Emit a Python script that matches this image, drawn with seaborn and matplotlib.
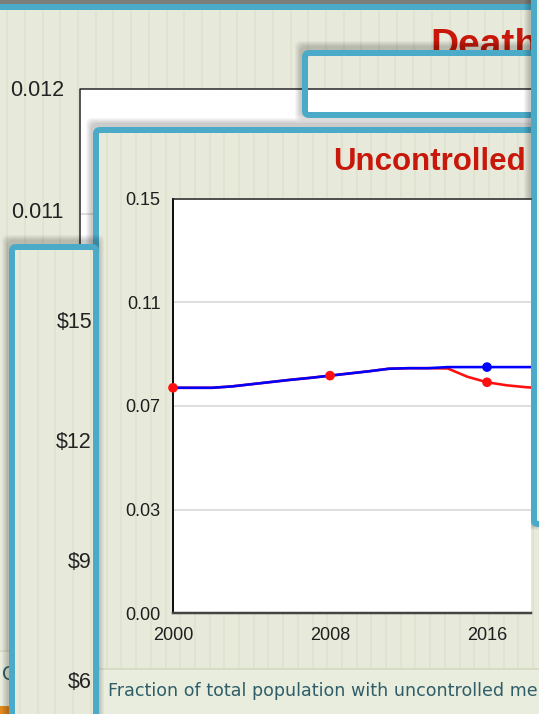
import numpy as np
import pandas as pd
import matplotlib.pyplot as plt
import seaborn as sns
from matplotlib.patches import Rectangle, FancyBboxPatch
from matplotlib.collections import LineCollection

# main chart values
years = list(range(2000, 2020))
baseline = [0.0816, 0.0816, 0.0816, 0.0821, 0.0829, 0.0837, 0.0845, 0.0852, 0.0860, 0.0868,
            0.0876, 0.0885, 0.0887, 0.0887, 0.0891, 0.0891, 0.0891, 0.0891, 0.0891, 0.0891]
scenario = [0.0816, 0.0816, 0.0816, 0.0821, 0.0829, 0.0837, 0.0845, 0.0852, 0.0860, 0.0868,
            0.0876, 0.0885, 0.0887, 0.0887, 0.0886, 0.0856, 0.0836, 0.0825, 0.0818, 0.0814]
red_dot_years = [2000, 2008, 2016]
blue_dot_years = [2016]
x_ticks = [2000, 2008, 2016]
y_ticks = [0, 0.0375, 0.075, 0.1125, 0.15]
y_tick_labels = ["0.00", "0.03", "0.07", "0.11", "0.15"]

# texts of the windows behind
death_title = "Death"
main_title = "Uncontrolled"
caption = "Fraction of total population with uncontrolled me"
back_ticks = ["0.012", "0.011"]
money_ticks = ["$15", "$12", "$9", "$6"]

BEIGE = "#e7eadb"
STRIPE = "#dfe3cf"
BLUE = "#4aaac7"
PX = 0.72  # points per pixel at dpi 100

sns.set_style("white")
plt.rcParams["font.family"] = ["Liberation Sans", "DejaVu Sans"]

fig = plt.figure(figsize=(5.39, 7.14), dpi=100)
bg = fig.add_axes([0, 0, 1, 1])
bg.set_xlim(0, 539)
bg.set_ylim(714, 0)
bg.axis("off")


def window(x0, y0, x1, y1, z, step, off, fill=BEIGE, shadow=True):
    if shadow:
        for k in range(1, 7):
            bg.add_patch(FancyBboxPatch((x0 - 1 - k, y0 - 3 - k), x1 - x0 + 2 * k, y1 - y0 + 2 * k,
                                        boxstyle="round,pad=0,rounding_size=6", fc="black",
                                        ec="none", alpha=0.035, zorder=z))
    body = FancyBboxPatch((x0 + 3, y0 + 3), x1 - x0 - 6, y1 - y0 - 6,
                          boxstyle="round,pad=0,rounding_size=4", fc=fill, ec="none", zorder=z + 0.1)
    bg.add_patch(body)
    if step:
        xs = np.arange(x0 + off, x1, step)
        lc = LineCollection([[(x, y0), (x, y1)] for x in xs], colors=STRIPE,
                            linewidths=1.8 * PX, zorder=z + 0.2)
        lc.set_clip_path(body)
        bg.add_collection(lc)
    bg.add_patch(FancyBboxPatch((x0 + 3, y0 + 3), x1 - x0 - 6, y1 - y0 - 6,
                                boxstyle="round,pad=0,rounding_size=4", fc="none", ec=BLUE,
                                lw=6 * PX, zorder=z + 0.9))
    return body


# window 1 (Death)
window(-40, 4, 600, 800, 1, 17.7, 47.3, shadow=False)
bg.add_patch(Rectangle((80, 89), 500, 555, fc="white", ec="none", zorder=1.3))
bg.plot([80, 80, 560], [650, 89, 89], color="#222222", lw=1.5 * PX, zorder=1.4)
bg.plot([81, 560], [214, 214], color="#d4d4d4", lw=1.5 * PX, zorder=1.35)
for lab, yy in zip(back_ticks, [90, 213]):
    bg.text(64, yy, lab, ha="right", va="center", fontsize=15.5, color="#222222", zorder=1.5)
bg.text(430, 56, death_title, ha="left", va="baseline", fontsize=28, fontweight="bold",
        color="#c8180c", zorder=1.5)
bg.add_patch(Rectangle((0, 651), 80, 70, fc="#e9eddd", ec="none", zorder=1.45))
bg.plot([0, 80], [651, 651], color="#d2d8be", lw=1.5 * PX, zorder=1.46)
bg.text(2, 674, "C", ha="left", va="center", fontsize=13.5, family="DejaVu Sans",
        color="#2f5e69", zorder=1.5)
bg.add_patch(Rectangle((0, 706), 9, 10, fc="#e38a1c", ec="none", zorder=1.5))
bg.add_patch(Rectangle((0, 0), 539, 4, fc="#7b7f7a", ec="none", zorder=1.95))

# window 2 (small, top right)
window(302, 50, 620, 118, 2, 17.7, 5)
bg.add_patch(Rectangle((305, 89), 300, 25, fc="white", ec="none", zorder=2.3))
bg.plot([305, 600], [89, 89], color="#222222", lw=1.5 * PX, zorder=2.4)

# window 4 (main chart)
window(93, 127, 620, 800, 4, 14.7, 13.7)
bg.add_patch(Rectangle((97, 669), 520, 60, fc="#e9eddd", ec="none", zorder=4.3))
bg.plot([97, 600], [669, 669], color="#d2d8be", lw=1.5 * PX, zorder=4.35)
bg.text(108, 691, caption, ha="left", va="center", fontsize=12.6, family="DejaVu Sans",
        color="#2f5e69", zorder=4.5)
bg.text(333, 169.5, main_title, ha="left", va="baseline", fontsize=22.5, fontweight="bold",
        color="#c8180c", zorder=4.5)

# window 3 (left, dollars)
window(9, 244, 99, 800, 6, 17.7, 11)
for lab, yy in zip(money_ticks, [322, 443, 563, 683]):
    bg.text(92, yy, lab, ha="right", va="center", fontsize=15.5, color="#222222", zorder=6.5)

# window 5 (right edge)
window(531, -40, 620, 527, 8, 0, 0, fill="#eef0e6")

# main seaborn chart
df = pd.DataFrame({"year": years, "baseline": baseline, "scenario": scenario})
long = df.melt(id_vars="year", var_name="run", value_name="value")

ax = fig.add_axes([173 / 539, 101 / 714, 358 / 539, 414 / 714])
ax.set_zorder(20)
ax.set_facecolor("white")
sns.lineplot(data=long, x="year", y="value", hue="run", hue_order=["scenario", "baseline"],
             palette={"scenario": "#ff1010", "baseline": "#0000ff"}, lw=2.6 * PX,
             legend=False, ax=ax, zorder=3)
red_pts = df[df["year"].isin(red_dot_years)]
blue_pts = df[df["year"].isin(blue_dot_years)]
sns.scatterplot(x=red_pts["year"], y=red_pts["scenario"], color="#ff1010", s=48,
                edgecolor="none", ax=ax, zorder=5, clip_on=False)
sns.scatterplot(x=blue_pts["year"], y=blue_pts["baseline"], color="#0000ff", s=48,
                edgecolor="none", ax=ax, zorder=5, clip_on=False)

ax.set_xlim(2000, 2000 + 358 / 19.625)
ax.set_ylim(0, 0.15)
ax.set_xticks(x_ticks)
ax.set_xticklabels([str(t) for t in x_ticks])
ax.set_yticks(y_ticks)
ax.set_yticklabels(y_tick_labels)
ax.set_xlabel("")
ax.set_ylabel("")
ax.grid(axis="y", color="#d4d4d4", lw=1.5 * PX)
ax.set_axisbelow(True)
ax.tick_params(length=0, labelsize=13, labelcolor="#1e1e1e")
ax.tick_params(axis="y", pad=9)
ax.tick_params(axis="x", pad=10)
ax.spines["right"].set_visible(False)
ax.spines["left"].set_color("#111111")
ax.spines["left"].set_linewidth(2 * PX)
ax.spines["top"].set_color("#222222")
ax.spines["top"].set_linewidth(1.5 * PX)
ax.spines["bottom"].set_color("#444444")
ax.spines["bottom"].set_linewidth(2.5 * PX)

fig.savefig("out.png", dpi=100)
